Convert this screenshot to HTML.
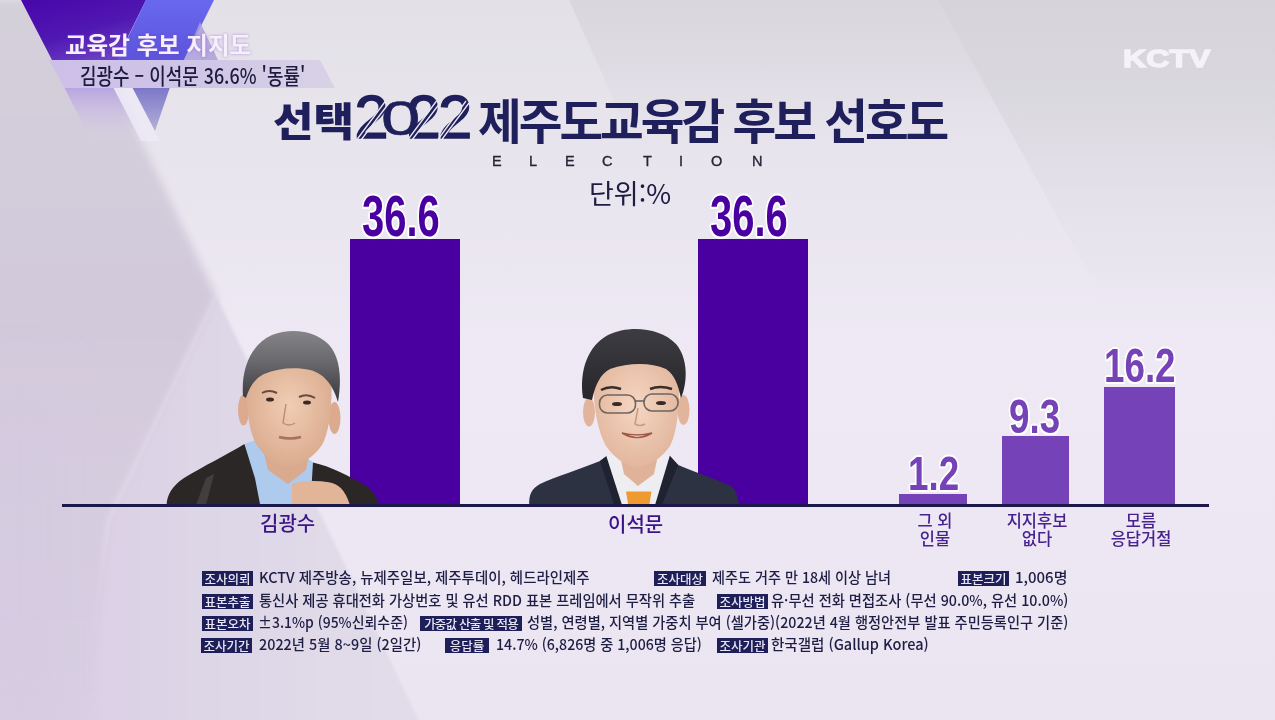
<!DOCTYPE html>
<html lang="ko">
<head>
<meta charset="utf-8">
<title>제주도교육감 후보 선호도</title>
<style>
html,body{margin:0;padding:0;}
body{width:1275px;height:720px;overflow:hidden;position:relative;background:#e9e3ef;
font-family:"Liberation Sans","Noto Sans CJK KR",sans-serif;}
.abs{position:absolute;white-space:nowrap;line-height:1;}
svg.layer{position:absolute;left:0;top:0;}
.krn{font-family:"Noto Sans CJK KR",sans-serif;}
.tag1{left:65px;top:32.5px;font-size:23.5px;font-weight:700;color:#f7effd;text-shadow:0 0 3px rgba(120,60,200,.5);}
.tag2{left:80px;top:62.5px;font-size:22px;font-weight:500;color:#1e1c3e;transform-origin:0 0;transform:scaleX(.815);}
.t1{left:273px;top:98.5px;font-size:40px;font-weight:900;color:#1f1f5c;transform-origin:0 0;transform:scaleX(1.1);}
.t2{left:0;top:0;font-size:61px;font-weight:400;color:#1f1f5c;font-family:"Liberation Sans",sans-serif;-webkit-text-stroke:1.6px #1f1f5c;}
.t2 span{position:absolute;line-height:normal;}
.t2 .z{font-size:49px;transform-origin:0 0;transform:scaleX(1.44);-webkit-text-stroke:.6px #1f1f5c;}
.t3{left:478px;top:94.5px;font-size:47.5px;font-weight:700;color:#1f1f5c;letter-spacing:-3px;}
.el{top:154px;font-size:14.5px;color:#262638;-webkit-text-stroke:.35px #262638;}
.unit{left:589px;top:179px;font-size:27px;color:#1e1c40;}
.bar{position:absolute;}
.big{background:#4a00a0;}
.small{background:#7542b7;}
.num{position:absolute;font-family:"Liberation Sans",sans-serif;font-weight:700;white-space:nowrap;line-height:1;
text-shadow:2px 0 0 #fff,-2px 0 0 #fff,0 2px 0 #fff,0 -2px 0 #fff,1.5px 1.5px 0 #fff,-1.5px 1.5px 0 #fff,1.5px -1.5px 0 #fff,-1.5px -1.5px 0 #fff,0 0 4px #fff;}
.nb{font-size:57px;color:#4a00a0;transform-origin:0 0;transform:scaleX(.70);}
.ns{font-size:49px;color:#7542b7;transform-origin:0 0;transform:scaleX(.75);}
.base{position:absolute;left:62px;top:504px;width:1147px;height:2.5px;background:#1c1848;}
.name{position:absolute;font-size:20px;font-weight:500;color:#3c1488;white-space:nowrap;line-height:1;}
.lab{position:absolute;font-size:16.5px;font-weight:500;color:#48228f;text-align:center;line-height:18.5px;white-space:nowrap;}
.kctv{left:1123px;top:47px;font-size:24.5px;font-weight:700;color:#f5f3f8;-webkit-text-stroke:1.3px #f5f3f8;transform-origin:0 0;transform:scaleX(1.31);font-family:"Liberation Sans",sans-serif;}
.tx{position:absolute;font-size:14.8px;font-weight:500;color:#1e1e44;white-space:nowrap;line-height:1;transform-origin:0 0;}
.k{position:absolute;height:15px;background:#1e1e58;color:#e8e6f4;font-size:12.5px;font-weight:500;line-height:15px;text-align:center;white-space:nowrap;}
</style>
</head>
<body>
<svg class="layer" width="1275" height="720" viewBox="0 0 1275 720">
  <defs>
    <filter id="soft1" x="-20%" y="-20%" width="140%" height="140%"><feGaussianBlur stdDeviation="1.5"/></filter>
    <linearGradient id="gtop" x1="0" y1="0" x2="0" y2="1">
      <stop offset="0" stop-color="#d9d6de"/>
      <stop offset=".2" stop-color="#dcd9e1" stop-opacity=".75"/>
      <stop offset=".5" stop-color="#e6e2ec" stop-opacity="0"/>
    </linearGradient>
    <linearGradient id="gbl" gradientUnits="userSpaceOnUse" x1="80" y1="0" x2="421" y2="0">
      <stop offset="0" stop-color="#dbcfe5"/>
      <stop offset=".35" stop-color="#ddd6e6"/>
      <stop offset="1" stop-color="#e2dcea"/>
    </linearGradient>
    <filter id="soft" x="-20%" y="-20%" width="140%" height="140%"><feGaussianBlur stdDeviation="4"/></filter>
    <filter id="soft2" x="-50%" y="-50%" width="200%" height="200%"><feGaussianBlur stdDeviation="25"/></filter>
    <linearGradient id="gleft2" x1="0" y1="0" x2="0" y2="1">
      <stop offset="0" stop-color="#d4d0da"/>
      <stop offset=".4" stop-color="#d2cadb"/>
      <stop offset="1" stop-color="#dacfe4"/>
    </linearGradient>
    <linearGradient id="gbase" x1="0" y1="0" x2="0" y2="1">
      <stop offset="0" stop-color="#e3e1e7"/>
      <stop offset=".3" stop-color="#eae6f0"/>
      <stop offset=".5" stop-color="#eee9f4"/>
      <stop offset="1" stop-color="#ebe5f2"/>
    </linearGradient>
    <linearGradient id="gleft" x1="0" y1="0" x2="1" y2="0">
      <stop offset="0" stop-color="#cfc6d9"/>
      <stop offset="1" stop-color="#dcd4e5"/>
    </linearGradient>
    <linearGradient id="gtr" x1="0" y1="0" x2="0" y2="1">
      <stop offset="0" stop-color="#d6d3da"/>
      <stop offset=".22" stop-color="#dad8df" stop-opacity=".7"/>
      <stop offset=".5" stop-color="#e2dfe7" stop-opacity="0"/>
    </linearGradient>
    <linearGradient id="gpurp" x1="0" y1="0" x2=".6" y2="1">
      <stop offset="0" stop-color="#4806aa"/>
      <stop offset=".6" stop-color="#5018b2"/>
      <stop offset="1" stop-color="#6a40c4"/>
    </linearGradient>
    <linearGradient id="glav" x1="0" y1="0" x2="0" y2="1">
      <stop offset="0" stop-color="#b8a6e0"/>
      <stop offset=".5" stop-color="#cbbfe2" stop-opacity=".7"/>
      <stop offset="1" stop-color="#d8d0e4" stop-opacity="0"/>
    </linearGradient>
    <linearGradient id="gtri" x1="0" y1="0" x2="0" y2="1">
      <stop offset="0" stop-color="#7c78c8"/>
      <stop offset="1" stop-color="#b4b0d8"/>
    </linearGradient>
    <linearGradient id="gband" x1="0" y1="0" x2="1" y2="0">
      <stop offset="0" stop-color="#cdbfe8"/>
      <stop offset=".5" stop-color="#cfc5e6"/>
      <stop offset="1" stop-color="#d9d2e6"/>
    </linearGradient>
    <linearGradient id="gblue" x1="0" y1="0" x2="0" y2="1">
      <stop offset="0" stop-color="#6868ee"/>
      <stop offset="1" stop-color="#5c54dc"/>
    </linearGradient>
  </defs>
  <rect width="1275" height="720" fill="url(#gbase)"/>
  <!-- left darker region -->
  <polygon points="217,297 421,725 80,725 110,520" fill="url(#gbl)" filter="url(#soft1)"/>
  <polygon points="569,0 1275,0 1275,330 717,330" fill="url(#gtop)"/>
  <polygon points="-20,0 73,0 217,297 110,520 90,740 -20,740" fill="url(#gleft2)" filter="url(#soft)"/>
  <polygon points="-20,380 60,380 60,740 -20,740" fill="#d4c9e0" opacity=".5" filter="url(#soft2)"/>
  <!-- top right grey -->
  <polygon points="938,0 1275,0 1275,613" fill="url(#gtr)"/>
  <!-- V shape -->
  <polygon points="21,0 146,0 129,34.5 118,60 52,60" fill="url(#gpurp)"/>
  
  <polygon points="146,0 214,0 184,60 117,60" fill="url(#gblue)"/>
  <polygon points="200,22 218,60 184,60" fill="#ad9fdc" opacity=".85"/>
  <polygon points="64.5,88 113.6,88 142,142 92,142" fill="url(#glav)"/>
  <polygon points="113.6,88 132.6,88 160,141 141,141" fill="#eee8f6" opacity=".8"/>
  <polygon points="132.6,88 169.7,88 155,131" fill="url(#gtri)"/>
  <!-- band -->
  <polygon points="49,60 320,60 335,88 64.5,88" fill="url(#gband)"/>
</svg>

<div class="abs tag1 krn">교육감 후보 지지도</div>
<div class="abs tag2 krn">김광수 – 이석문 36.6% '동률'</div>

<div class="abs t1 krn">선택</div>
<div class="abs t2"><span style="left:354.4px;top:81.9px">2</span><span class="z" style="left:381px;top:89.9px">0</span><span style="left:406.8px;top:81.9px">2</span><span style="left:438.2px;top:81.9px">2</span></div>
<svg class="layer" width="1275" height="720" viewBox="0 0 1275 720" style="pointer-events:none">
  <g stroke="#e8e6ee" stroke-width="1.3" fill="none">
    <path d="M385.5,101 L357,139.5 M389,103 L361,140"/>
    <path d="M436.5,101 L408,139.5 M440,103 L412,140"/>
    <path d="M466,101 L438,139.5 M469,103 L441.5,140"/>
  </g>
</svg>
<div class="abs t3 krn">제주도교육감 후보 선호도</div>
<div class="abs el" style="left:492px">E</div>
<div class="abs el" style="left:529px">L</div>
<div class="abs el" style="left:565px">E</div>
<div class="abs el" style="left:602px">C</div>
<div class="abs el" style="left:643px">T</div>
<div class="abs el" style="left:679px">I</div>
<div class="abs el" style="left:711px">O</div>
<div class="abs el" style="left:752px">N</div>
<div class="abs unit krn">단위:%</div>

<div class="bar big" style="left:350px;top:239px;width:110px;height:266px;"></div>
<div class="bar big" style="left:698px;top:239px;width:110px;height:266px;"></div>
<div class="bar small" style="left:899px;top:493.5px;width:68px;height:12px;"></div>
<div class="bar small" style="left:1001.5px;top:436px;width:67.5px;height:69px;"></div>
<div class="bar small" style="left:1103.5px;top:387px;width:71px;height:118px;"></div>

<svg class="layer" width="1275" height="720" viewBox="0 0 1275 720">
  <defs>
    <radialGradient id="skin1" cx=".5" cy=".45" r=".6">
      <stop offset="0" stop-color="#f0cdb4"/>
      <stop offset="1" stop-color="#d9a98c"/>
    </radialGradient>
    <radialGradient id="skin2" cx=".5" cy=".45" r=".6">
      <stop offset="0" stop-color="#f6d6c2"/>
      <stop offset="1" stop-color="#e0b49a"/>
    </radialGradient>
    <linearGradient id="hair1" x1="0" y1="0" x2="0" y2="1">
      <stop offset="0" stop-color="#858589"/>
      <stop offset=".45" stop-color="#68686c"/>
      <stop offset="1" stop-color="#38383c"/>
    </linearGradient>
    <linearGradient id="hair2" x1="0" y1="0" x2="0" y2="1">
      <stop offset="0" stop-color="#3c3c42"/>
      <stop offset="1" stop-color="#26262a"/>
    </linearGradient>
  </defs>
  <!-- person 1 -->
  <g>
    <path d="M166.6,505 C167,495 172,486 184,478 C204,466 226,455 244.4,444 L262,470 L300,470 L313,462.4 C330,466 350,476 366,486 C373,491 377,497 379,505 Z" fill="#2b2727"/>
    <path d="M196,505 L206,478 L214,474 L206,505 Z" fill="#4a4545" opacity=".8"/>
    <path d="M244.4,444 L256,440 L300,452 L313,462.4 L311.7,483.5 L297.2,505 L260.2,505 L255,478.3 Z" fill="#aecaec"/>
    <path d="M262,444 L310,448 L306,470 L288,484 L268,470 Z" fill="#d9aa8e"/>
    <ellipse cx="243.5" cy="410" rx="5.5" ry="15.5" fill="#dcab8f"/>
    <ellipse cx="334.5" cy="418" rx="6" ry="16" fill="#dcab8f"/>
    <path d="M251,356 L248,372 C246,395 246,425 256,444 C266,459 278,466 288,466 C300,466 314,457 322,445 C330,431 333,400 331,372 L328,356 Z" fill="url(#skin1)"/>
    <path d="M243,396 C241,370 250,345 272,335 C290,328 312,330 326,342 C338,352 343,372 338,402 C334,388 326,374 310,370 C296,367 278,368 264,374 C254,379 249,388 246,398 Z" fill="url(#hair1)"/>
    <path d="M262,393 q7,-4 15,0" stroke="#6a4a40" stroke-width="2" fill="none"/>
    <path d="M299,397 q8,-4 16,1" stroke="#6a4a40" stroke-width="2" fill="none"/>
    <ellipse cx="270" cy="399.5" rx="4" ry="2" fill="#3a2a26"/>
    <ellipse cx="307" cy="402.5" rx="4" ry="2" fill="#3a2a26"/>
    <path d="M286,404 L283,423 Q289,427 295,423" stroke="#c08e74" stroke-width="1.5" fill="none"/>
    <path d="M279,437 q11,3 22,0" stroke="#a8705e" stroke-width="2.5" fill="none"/>
    <path d="M291.9,484 C300,481 315,480 328.8,482.2 C338,484 345,489 349.9,505 L291.9,505 Z" fill="#e2b498"/>
  </g>
  <!-- person 2 -->
  <g>
    <path d="M529.2,505 C529,495 531,489 540,484 C555,477 580,469 600,461 L608,455 L669,455 L678.3,465 C695,472 718,480 731,486.2 C736,490 738,497 739,505 Z" fill="#2d3243"/>
    <path d="M608,455 L600,461 L614,505 L622,505 Z" fill="#1f2331"/>
    <path d="M669,455 L678,465 L662,505 L655,505 Z" fill="#1f2331"/>
    <polygon points="606,455 670,455 655,505 622,505" fill="#eeeef2"/>
    <path d="M618,446 L660,446 L654,474 L638,486 L624,474 Z" fill="#e0b29a"/>
    <polygon points="626,491.5 651.5,491.5 649.3,505 628.2,505" fill="#ee9a30"/>
    <ellipse cx="589" cy="412" rx="6" ry="14.5" fill="#e2b49c"/>
    <ellipse cx="683.5" cy="410" rx="6" ry="15" fill="#e2b49c"/>
    <path d="M596,356 L593,372 C593,400 596,428 606,446 C616,460 628,467 637,467 C648,467 662,458 670,446 C678,430 680,400 679,372 L676,356 Z" fill="url(#skin2)"/>
    <path d="M583,398 C579,370 588,346 608,335 C628,325 660,327 676,344 C688,358 688,382 681,398 C678,385 675,375 666,369 C650,362 628,363 610,369 C600,374 595,386 592,400 Z" fill="url(#hair2)"/>
    <path d="M601,390 q9,-5 20,-1" stroke="#3a2e2a" stroke-width="2.5" fill="none"/>
    <path d="M650,389 q10,-4 22,0" stroke="#3a2e2a" stroke-width="2.5" fill="none"/>
    <rect x="599.5" y="395" width="36" height="18" rx="8" fill="none" stroke="#6e6460" stroke-width="1.6"/>
    <rect x="644" y="394" width="34" height="17" rx="8" fill="none" stroke="#6e6460" stroke-width="1.6"/>
    <path d="M635.5,401 L644,401" stroke="#6e6460" stroke-width="1.6"/>
    <ellipse cx="617" cy="404" rx="5" ry="2" fill="#3a2a26"/>
    <ellipse cx="661" cy="403" rx="5" ry="2" fill="#3a2a26"/>
    <path d="M638,408 L635,424 Q640,427 645,424" stroke="#c89a80" stroke-width="1.5" fill="none"/>
    <path d="M622,433 q15,9 30,0 q-15,4 -30,0 Z" fill="#fff" stroke="#a05848" stroke-width="1.5"/>
  </g>
</svg>

<div class="num nb" style="left:362px;top:187.5px;">36.6</div>
<div class="num nb" style="left:710px;top:187.5px;">36.6</div>
<div class="num ns" style="left:908px;top:448.8px;">1.2</div>
<div class="num ns" style="left:1009px;top:391.5px;">9.3</div>
<div class="num ns" style="left:1104px;top:341px;">16.2</div>

<div class="base"></div>

<div class="name krn" style="left:260px;top:512.5px;">김광수</div>
<div class="name krn" style="left:608px;top:514px;">이석문</div>
<div class="lab krn" style="left:895px;top:510.5px;width:80px;">그 외<br>인물</div>
<div class="lab krn" style="left:997px;top:510.5px;width:80px;">지지후보<br>없다</div>
<div class="lab krn" style="left:1101px;top:510.5px;width:80px;">모름<br>응답거절</div>

<div class="abs kctv">KCTV</div>

<!-- survey info -->
<div class="k krn" style="left:202px;top:571px;width:51px;">조사의뢰</div>
<div class="tx krn" style="left:259px;top:570px;transform:scaleX(.976)">KCTV 제주방송, 뉴제주일보, 제주투데이, 헤드라인제주</div>
<div class="k krn" style="left:654px;top:571px;width:52px;">조사대상</div>
<div class="tx krn" style="left:712px;top:570px;transform:scaleX(.956)">제주도 거주 만 18세 이상 남녀</div>
<div class="k krn" style="left:958px;top:571px;width:51px;">표본크기</div>
<div class="tx krn" style="left:1015px;top:570px;transform:scaleX(1.013)">1,006명</div>

<div class="k krn" style="left:202px;top:594px;width:51px;">표본추출</div>
<div class="tx krn" style="left:259px;top:593px;transform:scaleX(.963)">통신사 제공 휴대전화 가상번호 및 유선 RDD 표본 프레임에서 무작위 추출</div>
<div class="k krn" style="left:717px;top:594px;width:51px;">조사방법</div>
<div class="tx krn" style="left:771px;top:593px;transform:scaleX(.964)">유·무선 전화 면접조사 (무선 90.0%, 유선 10.0%)</div>

<div class="k krn" style="left:202px;top:616px;width:51px;">표본오차</div>
<div class="tx krn" style="left:258px;top:615px;transform:scaleX(.942)">±3.1%p (95%신뢰수준)</div>
<div class="k krn" style="left:420px;top:616px;width:102px;letter-spacing:-.8px;">가중값 산출 및 적용</div>
<div class="tx krn" style="left:527px;top:615px;transform:scaleX(.962)">성별, 연령별, 지역별 가중치 부여 (셀가중)(2022년 4월 행정안전부 발표 주민등록인구 기준)</div>

<div class="k krn" style="left:201px;top:638px;width:51px;">조사기간</div>
<div class="tx krn" style="left:259px;top:637px;transform:scaleX(.972)">2022년 5월 8~9일 (2일간)</div>
<div class="k krn" style="left:445px;top:638px;width:44px;">응답률</div>
<div class="tx krn" style="left:496px;top:637px;transform:scaleX(.957)">14.7% (6,826명 중 1,006명 응답)</div>
<div class="k krn" style="left:717px;top:638px;width:51px;">조사기관</div>
<div class="tx krn" style="left:771px;top:637px;transform:scaleX(.981)">한국갤럽 (Gallup Korea)</div>

</body>
</html>
